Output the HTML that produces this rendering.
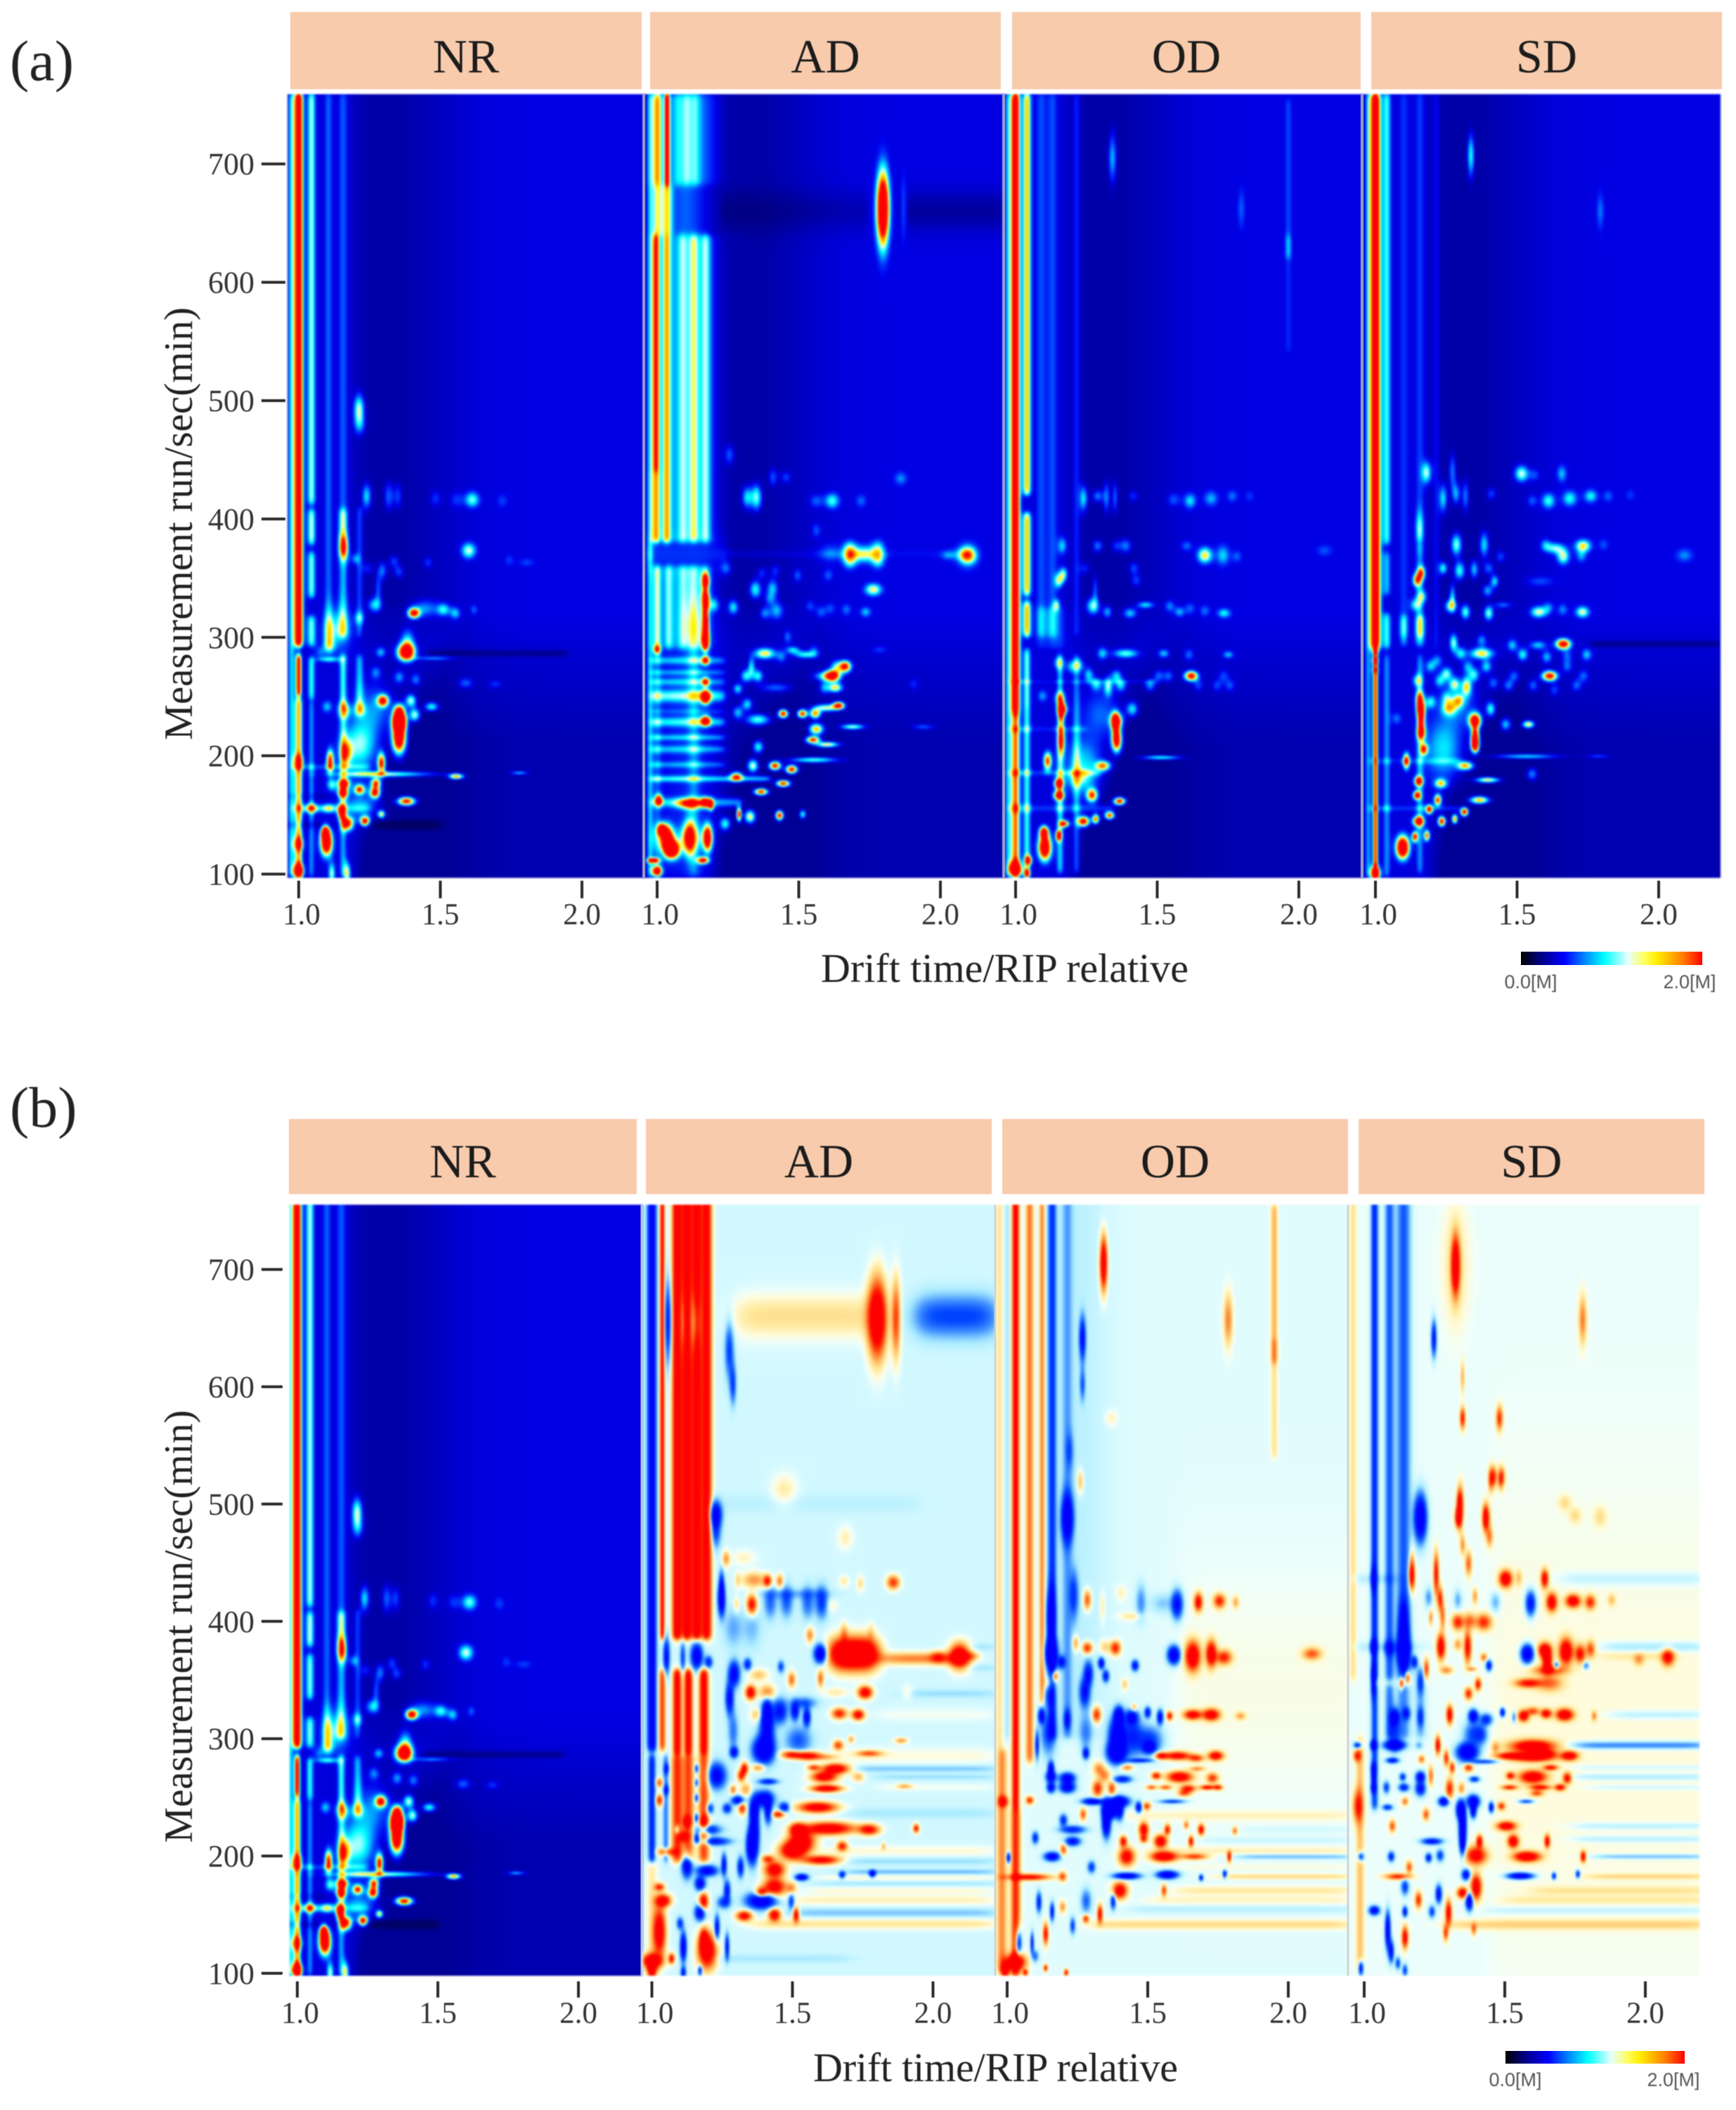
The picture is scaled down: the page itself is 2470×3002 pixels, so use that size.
<!DOCTYPE html>
<html lang="en">
<head>
<meta charset="utf-8">
<title>Ion mobility fingerprints</title>
<style>
html,body{margin:0;padding:0;background:#fff}
#page{position:relative;width:2470px;height:3002px;overflow:hidden;background:#fff;font-family:"Liberation Serif",serif}
canvas{position:absolute;display:block;filter:blur(1.3px)}
svg{position:absolute;left:0;top:0;filter:blur(.6px)}
.bar{position:absolute;background:linear-gradient(90deg,#000 0%,#00007a 10%,#0000ff 24%,#0090ff 36%,#00ffff 46%,#e8ffff 59%,#ffff60 68%,#ffee00 75%,#ff8000 89%,#ff0000 100%)}
</style>
</head>
<body>
<div id="page">
<div class="bar" style="left:2164px;top:1354px;width:258px;height:19px"></div>
<div class="bar" style="left:2142px;top:2918px;width:255px;height:18px"></div>
<svg id="overlay" width="2470" height="3002" viewBox="0 0 2470 3002"></svg>
</div>
<script>
// ---- axis values ----
const runTicks=[100,200,300,400,500,600,700];
const driftTicks=[1.0,1.5,2.0];
const panelNames=["NR","AD","OD","SD"];

// ---- series: [drift, runStart, runEnd, intensity, driftWidth] ----
const nrRidges=[[.975,97,760,.42,.007],[1,292,760,1.35,.012],[1,250,285,1.15,.008],[1,97,248,.8,.007],[1.045,412,760,.58,.008],[1.045,378,408,.6,.008],[1.045,333,372,.55,.008],[1.045,292,318,.55,.009],[1.045,247,283,.5,.007],[1.045,97,245,.33,.006],[1.105,295,760,.28,.008],[1.157,380,760,.27,.009],[1.157,300,408,.38,.009],[1.157,240,285,.5,.007],[1.157,97,235,.35,.007],[1.215,240,285,.38,.008],[1.215,300,410,.25,.007]];
// ---- series: [drift, run, intensity, driftWidth, runWidth] ----
const nrPeaks=[[1.213,493,.6,.009,8],[1.215,479,.3,.01,6],[1.24,419,.45,.008,7],[1.318,419,.3,.008,8],[1.351,419,.25,.008,7],[1.484,417,.22,.01,5],[1.558,416,.22,.012,4.5],[1.614,416,.55,.013,4.5],[1.72,415,.22,.01,4],[1.159,375,.75,.008,6],[1.601,373,.62,.013,4.5],[1.199,366,.3,.008,3],[1.337,364,.25],[1.457,363,.22],[1.807,363,.22,.015,2.5],[1.744,365,.2],[1.296,356,.32,.008,5],[1.354,355,.26],[1.244,358,.2],[1.281,340,.28,.006,8],[1.269,327,.45,.012,4],[1.407,320,1.05,.012,3],[1.447,324,.35,.025,5],[1.513,323,.45,.011,3.5],[1.554,320,.42,.009,3.5],[1.62,323,.28,.007,3],[1.215,316,.32],[1.107,304,.35,.012,12],[1.149,306,.4,.02,12],[1.107,292,.35],[1.38,287,1.3,.018,5],[1.385,296,.45,.012,7],[1.29,287,.4,.009,3],[1.075,287,.25],[1.48,282,.35,.05,1.2],[1.107,281,.4,.02,1.5],[1.273,270,.3],[1.356,266,.35],[1.414,264,.33],[1.591,261,.3,.013,3],[1.695,260,.22,.012,2.5],[1.298,246,.95,.009,3],[1.397,246,.6],[1.47,241,.5,.012,2.5],[1.41,234,.6],[1.356,238,.7],[1.356,229,1.25,.012,5],[1.16,238,.72,.01,4],[1.1,241,.4],[1.215,238,.5],[1.355,228,1.1,.012,6],[1.355,214,1.3,.014,9],[1.293,193,1,.008,6],[1.111,195,1,.008,7],[1.166,202,.6,.01,7],[1.215,208,.55,.045,14],[1.27,240,.32,.05,14],[1.22,160,.35,.05,10],[1.16,176,1,.012,3],[1.156,168,1,.01,3],[1.215,171,.8,.008,2.5],[1.273,176,.9,.008,3],[1.27,168,1,.01,3],[1.381,161,1.05,.018,2.5],[1.557,182,.8,.012,1.5],[1.3,184,.6,.12,1.5],[1.78,185,.4,.015,1],[1.152,152,1.05,.008,4],[1.172,142,1.1,.014,4],[1.234,144,1.05,.01,3],[1.293,150,.65,.006,2],[1.098,126,1.4,.013,8],[1.094,135,1,.008,4],[1,102,1.2,.01,4],[1.117,100,.6,.006,6],[1.172,100,.6,.006,6],[1,125,.5],[1.117,175,.5],[1,195,.5],[1.045,155,.6,.012,2.5],[1.105,155,.5,.012,2.5]];
// ---- series: [run, driftStart, driftEnd, intensity, runWidth] ----
const nrBands=[[141,.96,1.5,-.12,2.5],[165,.96,1.3,-.06,2],[286,1.45,1.95,-.08,2],[190,.98,1.25,.22,2],[155,.98,1.25,.2,2.5]];

const adRidges=[[.975,97,760,.35,.006],[1,682,760,.72,.009],[1.035,682,760,1.1,.007],[1.105,682,760,.42,.07],[1.075,682,760,.1,.008],[1.105,682,760,.15,.008],[1.135,682,760,.15,.008],[1,640,682,.62,.01],[1.035,640,682,.6,.01],[1.1,640,682,.27,.05],[.996,440,640,.95,.007],[.996,380,440,.72,.008],[1.033,380,640,.6,.008],[1.105,380,640,.4,.07],[1.09,380,640,.2,.008],[1.13,380,640,.3,.009],[1.172,380,640,.34,.009],[1,290,360,.5,.008],[1.04,290,360,.3,.008],[1.1,290,360,.38,.07],[1.09,290,360,.17,.008],[1.13,290,360,.22,.012],[1.17,290,360,.22,.008],[1,97,290,.2,.008],[1.1,97,290,.14,.07],[1.13,97,290,.2,.012]];
const adPeaks=[[1.797,662,1.5,.014,24],[1.87,662,.3,.005,18],[1.171,347.5,.95,.006,4],[1.171,332,.88,.006,5],[1.171,310,1.1,.006,10],[1.171,296,.9,.006,5],[1.132,308,.15,.03,14],[1.171,280,.8,.006,2.5],[1.171,262,.8,.006,2.5],[1.171,249,1.2,.009,4],[1.171,229,1.1,.009,3],[1,289,.72,.006,2.5],[1.256,454,.25,.008,5],[1.409,435,.28,.008,5],[1.455,435,.25],[1.86,434,.33,.012,4],[1.318,418,.45,.009,6],[1.351,418,.55,.009,7],[1.561,415,.28,.012,4],[1.618,415,.52,.013,4.5],[1.72,415,.28,.01,4],[1.562,390,.27,.008,4],[1.68,374,.55,.012,5],[1.68,365,.55,.012,5],[1.73,370,.4,.012,5],[1.78,375,.45,.012,5],[1.78,365,.5,.012,5],[1.705,370,.2,.012,5],[1.755,370,.2,.012,5],[1.612,371,.25,.02,6],[2.096,369,.68,.015,4.5],[2.096,369,.3,.02,8],[2.026,369,.25,.012,3],[1.244,358,.25],[1.37,354,.22],[1.417,356,.22],[1.496,352,.28,.008,4],[1.604,352,.27],[1.347,340,.5,.01,5],[1.407,341,.42,.01,5],[1.763,340,.68,.015,3.5],[1.269,325,.45,.009,4],[1.397,332,.25],[1.422,322,.4,.012,5],[1.38,320,.33],[1.54,326,.25],[1.579,321,.28],[1.612,324,.25],[1.668,323,.3],[1.736,321,.4,.01,3],[1.2,327,.35],[1.461,300,.3,.007,4],[1.38,286,.72,.018,3],[1.48,289,.45,.012,2],[1.521,285,.5,.018,2],[1.439,283,.3],[1.554,288,.3],[1.786,289,.22,.015,2],[1.663,275,1.1,.013,3.5],[1.619,267,1.1,.016,3.5],[1.59,267,.4,.02,2.5],[1.63,275,.4],[1.333,275,.45,.006,5],[1.314,267,.5],[1.356,267,.5],[1.285,256,.45,.008,3],[1.42,257,.3,.04,2.5],[1.629,257,.72,.012,2.5],[1.59,257,.35],[1.906,260,.2],[1.318,243,.45],[1.285,236,.4],[1.641,242,1.05,.012,2.2],[1.596,240,.65,.03,2],[1.558,235,.85,.009,2.5],[1.513,235,1,.01,2.5],[1.445,235,1.05,.01,2.5],[1.356,230,.55,.02,3],[1.562,222,.8,.012,3],[1.55,213,1,.014,2],[1.357,207,.5],[1.416,191,1.05,.012,2.5],[1.475,188,1.05,.012,2.5],[1.445,176,1,.014,2],[1.367,169,1,.014,2],[1.28,182,.8,.01,2.5],[1.338,191,.65],[1.289,150,1.05,.005,4],[1.328,148,.7],[1.432,149,1.05,.008,2.8],[1.514,150,.5,.006,2.5],[1.24,142,.5],[1.553,196,.55,.06,1.5],[1.6,209,.7,.03,1.5],[1.69,224,.6,.03,1.5],[1.94,224,.28,.02,1.5],[1.035,128,1.3,.012,8],[1.016,137,1.1],[1.055,120,1.3,.014,5],[1.113,130,.85,.01,9],[1.178,130,1.1,.009,8],[1.162,111,1,.012,2],[.987,111,1.2,.012,1.5],[1,102,1.2,.01,3],[1.006,162,.9,.006,3],[1.17,160,1,.009,3],[1.19,158,.9,.005,3],[1.113,159,.65,.03,3]];
const adBands=[[370,.96,1.25,.2,8],[280,.98,1.24,.3,2.5],[270,.98,1.24,.25,2],[262,.98,1.24,.3,2.5],[250,.98,1.24,.45,4],[237,.98,1.24,.15,2],[228,.98,1.24,.38,3],[215,.98,1.24,.3,2],[205,.98,1.24,.3,2.5],[192,.98,1.24,.25,2],[180,.98,1.4,.4,2],[160,.98,1.3,.35,3],[130,.98,1.2,.25,8],[370,1.25,2.1,.1,3],[660,1.85,2.22,-.08,12],[660,1.22,1.75,-.05,12]];

const odRidges=[[.975,97,760,.4,.007],[1,235,760,1.35,.012],[1,97,235,.9,.008],[1.04,420,760,.78,.008],[1.04,335,405,.78,.008],[1.04,300,330,.8,.008],[1.04,240,290,.55,.007],[1.04,97,240,.5,.007],[1.09,300,760,.25,.01],[1.13,300,760,.25,.01],[1.215,300,760,.2,.008],[1.963,620,755,.23,.007],[1.963,540,640,.17,.007],[1.09,290,325,.2,.012],[1.13,290,325,.2,.012],[1.16,290,325,.18,.012],[1.157,240,285,.38,.006],[1.157,100,240,.42,.007],[1.215,100,285,.28,.007]];
const odPeaks=[[1.342,705,.4,.007,14],[1.797,662,.27,.007,12],[1.24,417,.45,.007,7],[1.29,419,.33],[1.321,418,.33,.006,9],[1.351,418,.3,.005,9],[1.415,419,.22],[1.558,416,.27,.012,4],[1.616,415,.45,.011,4.5],[1.69,417,.38,.013,4.5],[1.765,419,.3,.01,3.5],[1.827,419,.2],[1.165,377,.42,.008,5],[1.29,377,.33],[1.389,377,.33,.01,4],[1.355,377,.22],[1.604,377,.3,.01,3],[1.668,369,.72,.013,4.5],[1.732,369,.42,.012,6],[1.782,368,.27],[2.09,373,.25,.015,3.5],[1.169,353,.55,.007,4],[1.153,347.5,.55,.007,4],[1.244,358,.2],[1.418,358,.27],[1.426,347.5,.25],[1.281,340,.28,.005,8],[1.273,326,.55,.011,4.5],[1.145,327,.45,.006,3],[1.324,321,.38,.008,3.5],[1.404,320,.42,.012,3],[1.459,327,.45,.015,2],[1.544,326,.33],[1.579,321,.38,.009,3],[1.616,324,.28],[1.668,322,.3],[1.736,320,.48,.012,2.8],[1.306,286,.42],[1.389,286,.55,.022,2.5],[1.523,286,.42,.01,2.5],[1.612,285,.3],[1.751,285,.4,.01,2.2],[1.223,276,.38],[1.195,275,.35],[1.152,278,.38],[1.258,268,.42,.008,4],[1.356,267,.42],[1.505,267,.3],[1.54,267,.3],[1.62,267,1.1,.014,3],[1.735,267,.25],[1.285,260,.4],[1.327,258,.5,.007,5],[1.372,259,.4],[1.475,259,.35],[1.645,259,.25],[1.711,259,.25],[1.757,259,.27],[1.157,248,.6],[1.095,250,.35],[1.165,239,.9,.008,3],[1.356,229,.8,.01,4],[1.412,239,.45,.01,4],[1.357,213,1.2,.01,7],[1.352,228,.8,.006,5],[1.162,236,.8,.005,5],[1.162,213,.75,.006,7],[1.113,195,.95,.007,5],[1.152,176,1.05,.009,3],[1.152,166,.95,.009,2.5],[1.309,191,.75,.012,2.5],[1.514,198,.5,.05,1.2],[1.27,166,.85],[1.367,161,1.05,.012,2.2],[1.22,180,.25,.03,5],[1.24,190,.45,.05,16],[1.3,235,.3,.05,14],[1.103,122,1.4,.014,8],[1.1,135,1.05],[1.152,132,1.1,.006,3],[1.172,142,1,.01,2],[1.24,144,1.1,.012,3],[1.283,146,.9,.006,2.5],[1.332,149,.95,.008,2],[1,104,1.3,.012,4],[1.045,111,.9,.006,2.5],[1.04,100,1.05,.006,2.5]];
const odBands=[[185,.98,1.3,.2,2],[155,.98,1.35,.2,2.5],[222,.98,1.25,.15,2],[262,.98,1.5,.12,1.5]];

const sdRidges=[[.975,97,760,.35,.006],[1,290,760,1.35,.014],[1,97,290,1,.007],[1.04,378,760,.5,.008],[1.04,335,372,.38,.008],[1.04,290,320,.5,.008],[1.04,97,285,.33,.007],[1.1,300,760,.2,.01],[1.157,380,760,.22,.009],[1.157,300,378,.3,.008],[1.157,292,318,.45,.01],[1.1,292,318,.35,.008],[1.157,100,285,.33,.007],[1.215,290,760,.16,.007]];
const sdPeaks=[[1.337,707,.5,.006,12],[1.794,660,.3,.007,11],[1.181,439,.58,.008,6],[1.272,440,.33,.006,10],[1.516,438,.62,.012,4.5],[1.562,437,.25],[1.658,438,.4,.009,5],[1.239,417,.45,.007,8],[1.285,421,.38,.007,6],[1.318,419,.33,.006,9],[1.409,421,.25],[1.553,415,.28],[1.611,415,.52,.012,4.5],[1.686,417,.5,.013,4.5],[1.76,419,.48,.012,3.8],[1.822,419,.28],[1.9,420,.2],[1.156,391,.38,.007,10],[1.286,378,.58,.009,6],[1.384,378,.45,.008,7],[1.6,378,.33],[1.632,375,.52,.015,3],[1.663,368,.62,.011,4.5],[1.733,377,.72,.014,3.5],[1.727,368,.33],[1.806,378,.25],[2.091,369,.33,.016,4],[1.239,358,.5,.007,3.5],[1.297,356,.52,.009,5],[1.349,357,.42,.007,5],[1.4,358,.3],[1.442,368,.25],[1.162,354,.72,.007,3.5],[1.146,348,.78,.007,3.5],[1.421,347,.45,.007,3.5],[1.396,339,.38],[1.582,347,.25,.025,3],[1.272,334,.42,.005,7],[1.266,326,.58,.01,3.5],[1.14,327,.45],[1.165,334,.4],[1.318,321,.55,.008,4],[1.4,320,.58,.008,4],[1.576,321,.65,.014,3.2],[1.661,323,.33],[1.731,321,.65,.012,3.2],[1.45,327,.3,.015,2],[1.611,325,.3],[1.276,295,.58,.007,5],[1.375,297,.35],[1.483,293,.42],[1.574,293,.42,.015,2.5],[1.663,294,1.15,.016,3.2],[1.375,286,.72,.02,3],[1.301,286,.45],[1.52,285,.5],[1.605,283,.4],[1.677,284,.28],[1.746,285,.42],[1.327,275,.35],[1.392,275,.45],[1.677,275,.3],[1.194,275,.4],[1.218,280,.33],[1.251,269,.5],[1.348,268,.45],[1.615,267,1.1,.016,3],[1.735,267,.3],[1.49,267,.3],[1.227,263,.4],[1.279,260,.5],[1.322,258,.58,.008,5],[1.417,261,.3],[1.47,259,.33],[1.71,259,.3],[1.557,259,.3],[1.632,255,.25],[1.148,263,.45],[1.156,248,.72,.007,4],[1.293,246,.52],[1.194,245,.45],[1.251,249,.3],[1.26,240,.55,.012,4],[1.407,239,.5,.008,4],[1.16,239,.95,.007,4],[1.351,230,.7,.01,4],[1.46,226,.42],[1.54,226,.72,.01,2],[1.075,231,.3],[1,288,.3,.006,2],[1,280,.4,.006,2],[1,272,.3,.006,2],[1.352,216,1.2,.008,5],[1.352,208,1.2,.008,4],[1.352,228,.6],[1.162,230,.75,.006,5],[1.162,219,.85,.007,4],[1.172,205,.85,.006,3],[1.109,195,1,.007,5],[1.152,178,1.05,.009,2.8],[1.146,166,1.05,.008,2.5],[1.318,191,.75,.013,2.2],[1.396,179,.7,.02,1.5],[1.367,162,.8,.016,2],[1.23,176,.65,.01,2.5],[1.22,162,.95,.006,3],[1.19,154,.95,.006,2.5],[1.152,144,1.1,.012,3],[1.234,144,1.05,.008,3],[1.28,146,.85,.005,2.5],[1.314,152,1.1,.008,2.5],[1.139,131,1.05,.006,3],[1.182,132,.9,.005,3],[1.096,122,1.5,.014,7],[1,100,1.3,.01,4],[1.533,199,.45,.08,1.3],[1.787,199,.25,.02,1.2],[1.553,184,.35],[1.24,205,.45,.05,18],[1.3,245,.28,.05,14]];
const sdBands=[[195,.98,1.3,.15,2],[155,.98,1.3,.2,2],[294,1.75,2.22,-.08,2]];

// ---- difference series (same tuple shapes) ----
const adDiffRidges=[[.958,98,760,-1.4,.005],[1,290,760,-1.25,.011],[1.037,385,760,1.2,.006],[1.037,290,358,.8,.006],[1.09,385,760,1.4,.013],[1.125,385,760,1.4,.013],[1.16,385,760,1.4,.013],[1.195,385,760,1.3,.013],[1.09,286,358,1.3,.011],[1.13,286,358,1.3,.011],[1.185,286,358,1.3,.012],[1.09,195,285,.9,.01],[1.13,195,285,.8,.01],[1.185,195,285,.8,.01],[1,195,285,-.8,.006],[1.05,195,285,-.4,.005],[1,100,195,.2,.01]];
const adDiffPeaks=[[1.803,658,1.6,.018,22],[1.87,658,.8,.007,20],[1.057,655,-.8,.006,20],[1.11,655,-.3,.006,15],[1.155,655,-.6,.008,15],[1.276,631,-.6,.007,14],[1.289,602,-.6,.005,10],[1.226,491,-1.2,.012,7],[1.227,476,-.6,.008,8],[1.472,512,.2,.03,8],[1.689,471,.18,.012,6],[1.264,453,.5,.006,4],[1.327,454,.15,.02,4],[1.306,435,.25,.004,4],[1.364,435,.5,.02,4],[1.412,434,1,.008,3.5],[1.456,434,.6,.006,3.5],[1.685,434,.2,.008,3],[1.743,432,.25,.006,4],[1.86,433,.85,.01,3.5],[1.248,418,-1.2,.007,9],[1.248,430,-.7,.004,8],[1.302,414,.28,.005,4],[1.356,414,1.1,.01,5.5],[1.422,416,-.45,.01,8],[1.48,417,-.5,.01,8],[1.555,416,-.45,.01,8],[1.605,416,-.65,.01,8],[1.639,413,.15],[1.29,394,-.25,.015,10],[1.356,394,-.2,.015,10],[1.563,388,.55,.006,4],[1.685,390,.35,.006,5],[1.78,390,.2,.006,5],[1.67,372,1.3,.03,9],[1.72,372,1.3,.03,9],[1.77,372,1.3,.03,9],[2.097,370,1.5,.02,7],[2.02,369,.6,.012,3],[2.14,370,.4,.012,2],[1.601,372,-1.4,.012,5],[1.052,370,-1,.006,10],[1.11,369,-.6,.004,8],[1.16,370,-1.3,.011,7],[1.202,365,-.8,.006,3],[1.293,355,-1.1,.011,7],[1.277,334,-1,.008,9],[1.341,363,-.8,.006,3],[1.46,361,-.6,.005,3],[1.38,354,.35,.015,3],[1.498,350,.65,.006,4],[1.601,351,.65,.005,4.5],[1.352,339,1.3,.01,4],[1.41,339,.65,.012,4],[1.76,339,1.3,.014,3.5],[1.655,339,.2,.02,2.5],[1.91,339,.15],[1.372,320,.35],[1.41,320,-1.2,.009,9],[1.456,323,-.9,.012,6],[1.51,323,-1,.008,5],[1.552,318,-1.1,.007,5],[1.54,330,-.5,.03,3],[1.668,321,.95,.012,2.8],[1.735,320,1.2,.012,3],[1.397,290,-1.4,.02,7],[1.41,306,-.85,.012,12],[1.522,298,-.5,.02,7],[1.29,306,-.4,.008,10],[1.293,288,-1,.008,3],[1.664,294,.8,.008,2.5],[1.71,299,.45,.005,2],[1.888,298,.5,.01,1.5],[1.497,286,1,.02,2.3],[1.555,285,1.2,.03,2.5],[1.62,284,.4,.03,1.5],[1.775,287,.7,.03,1.5],[1.33,274,1.1,.007,3.5],[1.318,268,.9,.006,3],[1.38,275,.6,.01,2],[1.23,268,-1.1,.018,7],[1.414,263,-.8,.015,1.5],[1.655,274,1.4,.026,2.8],[1.614,267,1.3,.025,3],[1.576,275,.8,.01,1.5],[1.735,267,.4,.01,2.5],[1.622,257,1.4,.035,2],[1.9,259,.4,.012,1.3],[1.289,256,.6,.005,2.5],[1.335,256,.45],[1.306,247,-1,.012,2.5],[1.397,248,-1.2,.02,4.5],[1.364,238,-1.1,.008,5],[1.414,238,-1,.007,7],[1.472,241,-.9,.008,2.5],[1.322,240,.9,.006,3],[1.206,240,-.8,.006,3],[1.268,240,-.8,.007,2.5],[1.59,241,1.35,.045,3],[1.451,235,1,.012,2],[1.16,274,-.8,.004,2.5],[1.16,262,-.7,.004,2.5],[1.16,249,-.8,.004,2.5],[1.16,232,-.9,.004,2.5],[1.16,215,-.9,.005,2.5],[1.09,222,-.8,.004,2.5],[1.052,274,-.7,.004,2.5],[1.052,256,-.7,.004,2.5],[1.027,262,.7,.006,2.5],[1.027,247,.9,.006,3],[1.63,223,1.4,.06,3.5],[1.774,222,1.1,.02,3],[1.942,223,1,.006,2.5],[1.52,222,1.3,.015,3.5],[1.534,212,1.4,.03,6],[1.678,208,.95,.008,2.5],[1.826,208,.4,.003,2],[1.5,204,1.4,.025,5],[1.605,196,1.3,.045,2.5],[1.413,197,.8,.01,2],[1.437,188,1.3,.02,4.5],[1.125,229,1.1,.007,3],[1.185,229,1,.007,3],[1.113,216,.6,.008,3],[1.365,220,-1.4,.009,14],[1.353,208,-1.3,.009,9],[1.197,222,-.9,.03,2.5],[1.22,212,-.9,.025,2],[1.052,203,.8,.015,2],[1.125,192,-1.2,.01,7],[1.197,187,-1.1,.02,3],[1.257,192,-1,.005,6],[1.316,190,-.9,.005,5],[1.534,181.4,-1.3,.012,1.8],[1.678,183.4,-.9,.005,1.8],[1.786,184.4,-1.2,.006,2],[1.437,173,1.3,.022,5],[1.39,168,1.2,.012,3],[1.497,172,.5,.008,3],[1.172,176,-1.1,.01,4],[1.268,170,-.9,.005,5],[1.027,173,.9,.008,2],[1.39,161.4,-1.4,.028,4.5],[1.497,161,-.7,.005,4],[1.257,160,-.7,.01,3],[1.04,161.4,1.3,.015,3.5],[1.184,160.4,1.3,.009,5],[1.172,151.4,-1.2,.01,4.5],[1.437,149.4,1.3,.012,3.5],[1.514,149.4,1.3,.006,4],[1.329,148.4,1.2,.015,2.8],[1.027,135,1.4,.012,14],[1.112,122,-1.3,.006,8],[1.197,118.5,1.5,.018,10],[1.185,128,1.2,.008,6],[1.268,122,-1,.004,7],[1.232,138,-1,.005,7],[1.1,142,-.7,.005,3],[1,110,1.4,.02,4],[1.07,112,1.1,.006,3],[1,102,1.3,.009,5],[1.112,100,-.9,.004,3],[1.172,102,-1,.004,3]];
const adDiffBands=[[660,1.3,1.8,.42,13],[660,1.95,2.22,-.95,12],[500,1.22,1.95,-.08,6],[423,1.4,1.62,-.35,3],[368,1.82,2.1,.95,3.5],[378,2.12,2.22,-.2,2],[360,2.12,2.22,-.2,2],[338,1.9,2.22,-.2,2.5],[320,1.8,2.22,.12,4],[285,1.65,2.22,.18,5],[274,1.72,2.22,-.3,2],[267,1.8,2.22,-.2,1.5],[258,1.8,2.22,.12,2],[236,1.7,2.22,-.15,3],[204,1.6,2.22,.2,3],[195,1.55,2.22,-.2,2],[186,1.7,2.22,-.35,1.5],[181,1.6,2.22,.2,1.5],[176,1.6,2.22,-.15,1.5],[170,1.55,2.22,.2,2],[162,1.5,2.22,.28,3],[151,1.5,2.22,-.3,2.5],[141.5,1.35,2.22,.38,3],[112,1.2,1.7,-.15,2.5]];

const odDiffRidges=[[.973,100,760,.2,.007],[1,300,760,-.12,.006],[1.03,240,760,1.3,.009],[1.03,97,240,.9,.008],[1.08,280,760,.6,.007],[1.124,330,760,.55,.005],[1.16,300,760,-.7,.007],[1.214,300,760,-.25,.009],[1.95,620,755,.4,.006],[1.95,540,640,.22,.006],[.985,100,290,.4,.008],[1.25,300,760,-.08,.08]];
const odDiffPeaks=[[1.214,488,-1.4,.011,13],[1.26,519,.4,.005,6],[1.343,705,1.5,.007,15],[1.268,641,-1,.006,12],[1.268,602,-.5,.004,8],[1.786,657,.55,.007,13],[1.37,573,.15,.01,4],[1.222,545,-.35,.006,9],[1.285,418,.75,.006,5],[1.339,412,.2,.004,8],[1.405,424,.15,.008,4],[1.476,416,-.35,.008,9],[1.555,415,-.2,.02,5],[1.605,414,-1,.011,8],[1.68,416,1.15,.008,5],[1.755,417,.9,.009,3.5],[1.813,416,.4,.005,3],[1.237,422,-.6,.007,12],[1.156,404,-1.2,.008,15],[1.156,372,-1.5,.012,8],[1.193,365,-.9,.006,3],[1.243,381,.5,.005,4],[1.285,377,.9,.008,3],[1.347,378,.3],[1.385,377,.95,.008,3.5],[1.44,404,.2,.02,2],[1.593,371,-1.4,.012,5],[1.66,370,1.5,.014,8],[1.726,372,1.4,.01,7],[1.771,369,.9,.012,3.5],[2.084,372,.65,.014,3],[1.335,364,-1.1,.006,3],[1.455,362,-1,.007,3],[1.289,355,-.9,.007,6],[1.351,353,-.9,.005,3],[1.276,339,-.9,.008,7],[1.17,353,1,.006,3],[1.15,347,.3],[1.147,336,-.4,.009,6],[1.418,346,.3,.005,3],[1.122,319,-1.2,.006,4],[1.214,316,-.8,.005,5],[1.318,320,.9,.007,4],[1.451,326,.5,.005,2],[1.397,319,-1.4,.009,5],[1.443,318,-1,.012,4],[1.5,322,-1,.006,3],[1.544,318,-1.1,.006,4],[1.578,319,1,.006,2.5],[1.66,320,1.2,.017,2.7],[1.726,320,1.3,.016,3.2],[1.83,319,.4,.008,2],[1.147,304,-.6,.012,11],[1.28,304,-.35,.01,10],[1.393,302,-1.5,.016,10],[1.389,288,-1.5,.018,6],[1.447,302,-.7,.015,10],[1.505,298,-.7,.02,7],[1.505,292,-1,.012,3],[1.106,294,-.9,.003,7],[1.28,287,-1,.006,3],[1.547,285,1.1,.012,2],[1.605,285,1.2,.03,2.3],[1.672,283,.8,.012,1.8],[1.742,285,1.3,.014,2.5],[1.472,281,-.8,.02,1],[1.156,274,-1.2,.006,4],[1.156,267,-1.1,.01,3],[1.214,266,-1.2,.015,3],[1.214,258,-1.2,.015,3],[1.156,258,-1.1,.008,3],[1.322,257,.9,.008,4],[1.372,257,.75,.006,3.5],[1.41,265,-.9,.014,1.8],[1.426,275,.6,.01,1.5],[1.326,274,.5],[1.347,268,.5],[1.53,268,1,.009,2],[1.613,267,1.35,.024,3],[1.676,274,.5,.012,1.2],[1.73,266,.8,.009,2.5],[1.643,257,1,.015,2],[1.563,258,.7,.01,1.2],[1.513,258,.7,.008,1.2],[1.712,258,1.1,.014,1.3],[1.75,258,.95,.007,1.3],[1.63,253,.7,.01,1.5],[1.305,246,-1.3,.02,1.8],[1.397,246,-1.4,.02,3],[1.355,239,-1.4,.01,5],[1.4,238,-1.2,.008,5],[1.468,241,-1.1,.006,3],[1.497,242,.8,.006,2],[1.588,246,-.7,.03,1],[1.08,247,.9,.006,2],[.985,246,1,.01,3],[1.353,228,-1.5,.008,8],[1.377,238,-1.2,.008,4],[1.486,222,1.3,.009,4],[1.57,222,1,.006,3],[1.69,222,1.2,.006,3],[1.81,221,.6,.004,2],[1.637,226,.6,.004,2],[1.546,212,1.4,.012,3.5],[1.413,212,1.1,.007,3],[1.654,212,1.1,.005,3],[1.486,214,.8,.006,2],[1.233,222,-.8,.02,2],[1.233,212,-1,.015,2.5],[1.558,199,1.5,.03,2.8],[1.425,199,1.2,.015,5],[1.79,199,1.2,.004,3],[1.666,199,.8,.02,1.5],[1.16,199,-1.2,.015,2.5],[1.005,198,-1.2,.004,3],[1.425,182.5,-1.3,.03,1.8],[1.57,183.5,-1.4,.02,2.2],[1.69,181,-1,.004,1.8],[1.774,184,-1.1,.004,2.2],[1.077,181.5,1.1,.05,1.8],[1.197,182,.7,.006,2.5],[1.401,170,1.3,.014,4.5],[1.558,170,.8,.004,3],[1.377,161,-.9,.004,4],[1.281,161,-.5,.008,6],[1.16,152,-1,.004,5],[1.33,150,1.2,.005,5],[1.28,146,.9,.005,2],[1.197,156,.5,.005,3],[1.233,140,-.7,.004,4],[1.113,160,-.9,.004,5],[1.137,133,1.1,.005,6],[1.04,125,-1.2,.006,8],[1.089,125,-1,.003,6],[1.029,109,1.5,.02,4.5],[.993,102,1.3,.008,4],[1.137,104,1,.004,2],[1.21,100,1.1,.004,2],[1.065,100,1,.005,2],[1.1,114,-.5,.005,3],[1.2,230,-.8,.006,3],[1.27,235,.7,.005,3],[1.1,215,-.8,.005,3],[1.2,205,.7,.005,3],[1.3,190,-.7,.006,3]];
const odDiffBands=[[340,1.6,2.3,.1,80],[234,1.4,2.22,.18,3],[222,1.85,2.22,-.08,2],[213,1.7,2.22,-.1,2],[204,1.5,2.22,.2,2.5],[199,1.82,2.22,-.45,1.3],[190,1.6,2.22,.1,2],[182,1.75,2.22,.4,1.5],[170,1.6,2.22,.3,2.5],[162,1.5,2.22,.2,2.5],[154,1.45,2.22,-.15,2],[141,1.3,2.22,.4,2.8]];

const sdDiffRidges=[[.96,350,760,.2,.006],[.985,100,300,.32,.007],[1.037,350,760,-.85,.006],[1.09,350,760,-.55,.008],[1.14,350,760,-.55,.012],[1.037,240,345,-.65,.006],[1.09,300,345,-.45,.008],[1.14,300,345,-.4,.012],[1.2,300,360,-.25,.01]];
const sdDiffPeaks=[[1.325,703,1.5,.008,16],[1.325,703,.2,.03,30],[1.248,641,-1,.005,10],[1.777,657,.55,.006,12],[1.35,573,1,.005,6],[1.481,573,.85,.005,6],[1.35,608,.4,.003,8],[1.461,523,.8,.005,5],[1.49,523,.6,.005,5],[1.338,496,.9,.004,8],[1.431,488,.7,.004,6],[1.75,490,.2,.01,4],[1.2,488,-1.5,.012,13],[1.342,498,.9,.005,10],[1.333,488,1,.006,5],[1.434,488,.8,.006,7],[1.446,472,.55,.005,5],[1.35,465,.5,.004,5],[1.371,449,.65,.005,6],[1.45,521,.7,.004,6],[1.484,521,.5,.004,5],[1.713,501,.2,.01,4],[1.839,489,.2,.01,5],[1.169,438,1.2,.006,8],[1.169,450,.4,.004,8],[1.256,440,1.05,.005,12],[1.033,436,-.8,.004,6],[1.503,436,1.4,.012,4.5],[1.642,436,1.2,.007,5],[1.55,437,.3,.005,4],[1.27,419,.9,.004,6],[1.229,420,-.35,.006,5],[1.333,418,-.3,.006,5],[1.394,421,.45,.004,4],[1.467,416,-.3,.008,5],[1.592,415,-1,.01,7],[1.667,416,1.3,.01,5],[1.743,417,1.3,.014,3.5],[1.804,416,.85,.008,3.5],[1.88,418,.3,.006,3],[1.279,404,.6,.004,7],[1.333,399,.9,.009,4],[1.375,400,.6,.01,4],[1.425,399,.85,.012,4],[1.237,403,.5,.003,4],[1.14,396,-1,.01,14],[1.273,378,1.35,.008,7],[1.333,380,.45,.006,3],[1.368,378,1.1,.007,9],[1.14,374,-1.5,.012,10],[1.179,365,-.9,.005,3],[1.033,378,-1,.006,4],[1.09,377,-.6,.008,4],[1.58,372,-1.5,.012,5],[1.642,375,1.4,.012,4],[1.651,366,1.4,.009,6],[1.718,374,1.45,.013,7],[1.768,372,1,.01,5],[1.805,376,.7,.007,4],[2.08,369,1.1,.012,4.5],[1.977,367,.4,.008,3],[1.684,362,-.8,.004,2],[1.789,362,-.5,.005,2],[1.444,362,-1,.006,3],[1.221,359,.85,.004,5],[1.154,352,1,.005,3.5],[1.133,347,1,.004,3.5],[1.033,350,-1,.005,9],[1.2,347,-.5,.005,6],[1.292,358,.5,.01,2],[1.383,359,.5,.008,1],[1.425,369,.6,.005,2],[1.66,358,.8,.025,2.5],[1.584,347,1,.03,2.5],[1.66,347,.55,.03,4],[1.405,346,1,.006,3.5],[1.371,338,.9,.006,3],[1.108,318,-1.2,.008,4],[1.15,321,-.7,.006,3],[1.2,318,-.6,.005,5],[1.304,320,1.3,.006,5],[1.388,319,-1.3,.009,3.5],[1.434,316,-.8,.01,3],[1.492,322,-1.1,.005,2.5],[1.533,318,-.5,.003,3],[1.567,319,1.3,.01,3],[1.6,323,.7,.01,2],[1.647,321,1.2,.01,2.5],[1.713,320,1.45,.016,3.2],[1.818,319,.5,.004,2.5],[1.388,304,-.6,.015,6],[1.417,303,-.5,.01,5],[1.108,306,-.6,.009,10],[1.367,288,-1.5,.02,5],[1.262,294,1.2,.005,5],[1.467,292,.4,.006,3],[1.6,293,1.5,.05,3.5],[1.642,287,1,.02,2],[1.6,284,1.4,.05,2.5],[1.73,285,1.3,.016,2.5],[1.517,285,1.1,.025,1.8],[1.108,294,-1.5,.02,2.7],[1.033,294,-1.2,.006,2.5],[.978,294,-1,.008,2],[1.195,294,-.3,.006,2],[.975,285,.8,.006,3],[1.1,281,-1,.012,1.5],[1.204,282,.6,.005,2],[1.292,283,.9,.004,4],[1.313,275,.9,.004,3],[1.371,275,.9,.007,2],[1.43,280,-.7,.02,1],[1.663,275,1,.014,1.5],[1.033,274,-.9,.004,3],[1.033,267,-1,.004,3],[1.033,258,-1,.005,3],[1.079,258,-.7,.005,3],[1.137,267,-.8,.005,2],[1.141,258,-.9,.008,2],[1.2,267,-1.2,.009,3],[1.2,257,-1,.01,4],[1.304,257,.9,.006,5],[1.237,268,.6,.004,5],[1.346,257,.5,.005,3],[1.6,267,1.4,.025,3.5],[1.52,268,1,.008,2],[1.722,266,1.1,.008,3],[1.392,265,-.8,.008,1.5],[1.517,258,.9,.012,1.2],[1.626,258,1,.02,1.5],[1.697,258,1.1,.01,1.8],[1.614,253,.7,.01,1.5],[1.283,246,-1.3,.01,2.5],[1.388,246,-1.4,.012,3.5],[1.342,239,-1.4,.008,5],[1.388,238,-1.2,.006,4],[1.452,241,-1.1,.005,3],[1.488,242,.8,.006,2],[1.576,246,-.7,.012,1],[1.083,241,-.8,.008,1.5],[1.145,246,.6,.005,2],[.978,242,.8,.008,8],[1.35,228,-1.5,.007,9],[1.35,212,-1.4,.006,8],[1.241,212,-1,.02,1.8],[1.506,225,1.3,.018,2.5],[1.41,212,1.2,.006,3.5],[1.53,212,1.4,.01,3.5],[1.651,212,1.3,.005,3.5],[1.579,199,1.5,.03,2.8],[1.398,200,1.2,.02,5],[1.779,199,1.25,.005,3],[.988,199,-.9,.005,2.5],[1.096,199,-.9,.005,2.5],[1.229,198,-1,.006,2.5],[1.362,183.5,-1.1,.008,3],[1.555,182.5,-1.4,.025,1.8],[1.675,182.5,-1,.004,2],[1.76,184,-1,.004,2.2],[1.12,182,.9,.02,1.5],[1.398,173,1.4,.01,7],[1.35,168,1.3,.01,3],[1.374,161,-1.4,.007,5],[1.265,167,-1.1,.006,5],[1.145,173,-.7,.006,4],[1.193,162,.9,.005,4],[1.3,151,1.2,.006,7],[1.036,153,-1.2,.01,2.5],[1.145,152,-1,.005,3],[1.241,152,-.7,.005,3],[1.084,136,-1.4,.005,10],[1.145,130,1.2,.006,6],[1.096,118,-1.1,.005,6],[1.29,134,.8,.004,4],[1.39,137,.6,.004,3],[.988,104,-1.2,.005,4],[1.12,108,-.7,.004,3],[1.145,102,-.7,.004,3],[1.1,225,.7,.005,3],[1.22,235,.7,.005,3],[1.27,200,-.7,.006,3],[1.16,190,.7,.005,3]];
const sdDiffBands=[[300,1.45,2.3,.1,150],[436,1.7,2.22,-.2,4],[436,.96,1.12,-.2,3],[378,.97,1.2,-.2,3],[378,1.85,2.22,-.3,3],[370,1.85,2.1,.18,2.5],[320,1.88,2.22,-.25,2.5],[294,1.75,2.22,-.75,2.2],[275,1.75,2.22,-.18,1.5],[267,1.75,2.22,-.3,2],[258,1.8,2.22,-.18,1.5],[225,1.75,2.22,-.25,2],[214,1.75,2.22,-.25,2],[199,1.82,2.22,-.5,1.3],[182,1.8,2.22,.35,1.5],[170,1.6,2.22,.25,2.5],[162,1.5,2.22,.2,2.5],[153,1.45,2.22,-.2,2.2],[141,1.3,2.22,.4,2.8]];

const colorStopsRaw=[[0,0,0,90],[.1,0,0,150],[.2,0,0,235],[.3,0,70,255],[.42,0,190,255],[.5,0,255,255],[.62,215,255,255],[.7,255,255,60],[.74,255,240,0],[.85,255,160,0],[1,255,0,0]];
const colorStopsDiff=[[-1,0,0,255],[-.6,0,70,255],[-.35,70,150,255],[-.15,170,235,255],[-.05,215,250,255],[0,240,255,250],[.05,255,252,220],[.15,255,235,160],[.3,255,195,110],[.5,255,130,50],[.8,255,40,0],[1,255,0,0]];

// ---- layout ----
const figures=[
 {key:"a",y0:738.4,ys:1.684,top:134,bottom:1249,stripTop:17,stripBottom:127,stripText:81,unit:403,tickTop:1253,tickBottom:1278,labelY:1301,yTickLeft:372,yTickRight:406,yTitleY:745,xTitle:[1168,1691,1379],barLabel:[2178,2404,1397],tagY:92,tag:"(a)",
  columns:[[409,916,425],[916,1428,935],[1428,1938,1445],[1938,2448,1957]],strips:[[413,913],[925,1424],[1440,1936],[1951,2450]],
  sets:[[nrRidges,nrPeaks,nrBands,0],[adRidges,adPeaks,adBands,0],[odRidges,odPeaks,odBands,0],[sdRidges,sdPeaks,sdBands,0]]},
 {key:"b",y0:2306.8,ys:1.669,top:1714,bottom:2811,stripTop:1592,stripBottom:1699,stripText:1653,unit:400,tickTop:2819,tickBottom:2842,labelY:2864,yTickLeft:372,yTickRight:402,yTitleY:2314,xTitle:[1157,1676,2943],barLabel:[2156,2381,2959],tagY:1581,tag:"(b)",
  columns:[[412,913,423],[913,1416,927.5],[1416,1918,1433],[1918,2418,1941]],strips:[[411,906],[919,1411],[1426,1918],[1933,2425]],
  sets:[[nrRidges,nrPeaks,nrBands,0],[adDiffRidges,adDiffPeaks,adDiffBands,-.06],[odDiffRidges,odDiffPeaks,odDiffBands,-.03],[sdDiffRidges,sdDiffPeaks,sdDiffBands,-.01]]}
];
const STEP=2;
const page=document.getElementById("page");
const overlay=document.getElementById("overlay");
const NS="http://www.w3.org/2000/svg";

function lookup(stops,v){
  if(v<=stops[0][0])return stops[0];
  for(let i=1;i<stops.length;i++){
    if(v<=stops[i][0]){
      const a=stops[i-1],b=stops[i],t=(v-a[0])/(b[0]-a[0]);
      return [0,a[1]+(b[1]-a[1])*t,a[2]+(b[2]-a[2])*t,a[3]+(b[3]-a[3])*t];
    }
  }
  return stops[stops.length-1];
}
function softWindow(v,lo,hi,edge){
  const a=(v-lo)/edge,b=(hi-v)/edge;
  const sa=a>2?1:a<-2?0:.5+.5*Math.tanh(a*1.5);
  const sb=b>2?1:b<-2?0:.5+.5*Math.tanh(b*1.5);
  return sa*sb;
}
function clamp01(x){return x<0?0:x>1?1:x;}
function rawBackground(d,r){
  let v=.19;
  v-=.07*Math.exp(-Math.pow((d-1.32)/.24,2));
  v-=.06*clamp01((320-r)/110)*clamp01((d-1.15)/.15);
  const edge=r<110?1.2:1.2+Math.min(r-110,190)*.0017;
  v+=.05*clamp01((edge+.05-d)/.12)*clamp01((330-r)/40);
  v+=(.18-v)*clamp01((1.22-d)/.07);
  return Math.max(v,.1);
}
function drawPanel(fig,index){
  const col=fig.columns[index],set=fig.sets[index];
  const w=Math.round((col[1]-col[0])/STEP),h=Math.round((fig.bottom-fig.top)/STEP);
  const field=new Float32Array(w*h);
  const isDiff=fig.key==="b"&&index>0;
  const driftAt=i=>1+(col[0]+(i+.5)*STEP-col[2])/fig.unit;
  const runAt=j=>400-(fig.top+(j+.5)*STEP-fig.y0)/fig.ys;
  const colOf=d=>(col[2]+(d-1)*fig.unit-col[0])/STEP-.5;
  const rowOf=r=>(fig.y0-fig.ys*(r-400)-fig.top)/STEP-.5;
  const drifts=new Float32Array(w),runs=new Float32Array(h);
  for(let i=0;i<w;i++)drifts[i]=driftAt(i);
  for(let j=0;j<h;j++)runs[j]=runAt(j);
  // ridges: vertical lines between two run values
  for(const [d0,r0,r1,amp,dwRaw] of set[0]){
    const dw=dwRaw<.03?dwRaw*(Math.abs(amp)<1?1.35:.9):dwRaw;
    const a=Math.max(0,Math.floor(colOf(d0-dw*4))),b=Math.min(w-1,Math.ceil(colOf(d0+dw*4)));
    for(let i=a;i<=b;i++){
      const g=amp*Math.exp(-.5*Math.pow((drifts[i]-d0)/dw,2));
      for(let j=0;j<h;j++){
        const s=softWindow(runs[j],r0,r1,5);
        if(s>0)field[j*w+i]+=g*s;
      }
    }
  }
  // bands: horizontal stripes between two drift values
  const bandGain=isDiff?.6:1,bandEdge=isDiff?.07:.02;
  for(const [r0,d0,d1,amp,rw] of set[2]){
    const a=Math.max(0,Math.floor(rowOf(r0+rw*4))),b=Math.min(h-1,Math.ceil(rowOf(r0-rw*4)));
    for(let j=a;j<=b;j++){
      const g=bandGain*amp*Math.exp(-.5*Math.pow((runs[j]-r0)/rw,2));
      for(let i=0;i<w;i++){
        const s=softWindow(drifts[i],d0,d1,bandEdge);
        if(s>0)field[j*w+i]+=g*s;
      }
    }
  }
  // peaks: 2-D spots
  for(const p of set[1]){
    const d0=p[0],r0=p[1],amp=p[2],dwRaw=p[3]||.009;
    const strong=Math.abs(amp)>=1;
    const rw=(p[4]||3.5)*(strong?1:1.12);
    const dw=dwRaw<.03?dwRaw*(strong?1.2:1.5):dwRaw;
    const ia=Math.max(0,Math.floor(colOf(d0-dw*3.5))),ib=Math.min(w-1,Math.ceil(colOf(d0+dw*3.5)));
    const ja=Math.max(0,Math.floor(rowOf(r0+rw*3.5))),jb=Math.min(h-1,Math.ceil(rowOf(r0-rw*3.5)));
    for(let j=ja;j<=jb;j++){
      const gr=Math.exp(-.5*Math.pow((runs[j]-r0)/rw,2));
      for(let i=ia;i<=ib;i++){
        field[j*w+i]+=amp*gr*Math.exp(-.5*Math.pow((drifts[i]-d0)/dw,2));
      }
    }
  }
  const canvas=document.createElement("canvas");
  
  
  canvas.width=w;canvas.height=h;
  canvas.style.left=col[0]+"px";canvas.style.top=fig.top+"px";
  canvas.style.width=(col[1]-col[0])+"px";canvas.style.height=(fig.bottom-fig.top)+"px";
  const ctx=canvas.getContext("2d"),img=ctx.createImageData(w,h),px=img.data;
  for(let j=0;j<h;j++)for(let i=0;i<w;i++){
    const f=field[j*w+i];let c;
    if(isDiff){
      c=lookup(colorStopsDiff,f+set[3]);
    }else{
      const bg=rawBackground(drifts[i],runs[j]);
      c=lookup(colorStopsRaw,f>0?Math.hypot(bg,f):Math.max(.02,bg+f));
    }
    const k=(j*w+i)*4;
    px[k]=c[1];px[k+1]=c[2];px[k+2]=c[3];px[k+3]=255;
  }
  ctx.putImageData(img,0,0);
  page.insertBefore(canvas,overlay);
}
function addLine(x1,y1,x2,y2,stroke,width){
  const el=document.createElementNS(NS,"line");
  el.setAttribute("x1",x1);el.setAttribute("y1",y1);el.setAttribute("x2",x2);el.setAttribute("y2",y2);
  el.setAttribute("stroke",stroke);el.setAttribute("stroke-width",width);
  overlay.appendChild(el);
  return el;
}
function addText(str,x,y,size,anchor,fill,family){
  const el=document.createElementNS(NS,"text");
  el.setAttribute("x",x);el.setAttribute("y",y);el.setAttribute("font-size",size);
  el.setAttribute("text-anchor",anchor);el.setAttribute("fill",fill);
  el.setAttribute("font-family",family||'"Liberation Serif",serif');
  el.textContent=str;
  overlay.appendChild(el);
  return el;
}
for(const fig of figures){
  const yScale=run=>fig.y0-fig.ys*(run-400);
  fig.columns.forEach((col,idx)=>{
    drawPanel(fig,idx);
    const strip=document.createElementNS(NS,"rect");
    
    
    strip.setAttribute("x",fig.strips[idx][0]);strip.setAttribute("y",fig.stripTop);
    strip.setAttribute("width",fig.strips[idx][1]-fig.strips[idx][0]);strip.setAttribute("height",fig.stripBottom-fig.stripTop);
    strip.setAttribute("fill","#f8cbad");
    overlay.appendChild(strip);
    const title=addText(panelNames[idx],(fig.strips[idx][0]+fig.strips[idx][1])/2,fig.stripText+22,68,"middle","#1c1c1c");
    
    
    if(idx>0){
      const sep=addLine(col[0],fig.top,col[0],fig.bottom,fig.key==="a"?"#9aa0c8":"#c8cccc",fig.key==="a"?4:2.5);
      
      
    }
    for(const t of driftTicks){
      const x=col[2]+(t-1)*fig.unit;
      const tick=addLine(x,fig.tickTop,x,fig.tickBottom,"#2a2a2a",4);
      
      
      const label=addText(t.toFixed(1),x+(t===1?4:0),fig.labelY+14,43,"middle","#333");
      
      
    }
  });
  for(const run of runTicks){
    const y=yScale(run);
    const tick=addLine(fig.yTickLeft,y,fig.yTickRight,y,"#2a2a2a",4);
    
    
    const label=addText(String(run),362,y+15,44,"end","#333");
    
    
  }
  const yTitle=addText("Measurement run/sec(min)",0,0,57,"middle","#222");
  yTitle.setAttribute("transform","translate(273,"+fig.yTitleY+") rotate(-90)");
  
  
  const xTitle=addText("Drift time/RIP relative",fig.xTitle[0],fig.xTitle[2]+18,58,"start","#222");
  xTitle.setAttribute("textLength",fig.xTitle[1]-fig.xTitle[0]);
  
  
  const low=addText("0.0[M]",fig.barLabel[0],fig.barLabel[2]+9,27,"middle","#555",'"Liberation Sans",sans-serif');
  
  
  const high=addText("2.0[M]",fig.barLabel[1],fig.barLabel[2]+9,27,"middle","#555",'"Liberation Sans",sans-serif');
  
  
  const tag=addText(fig.tag,14,fig.tagY+22,82,"start","#222");
  
  
}
</script>
</body>
</html>
